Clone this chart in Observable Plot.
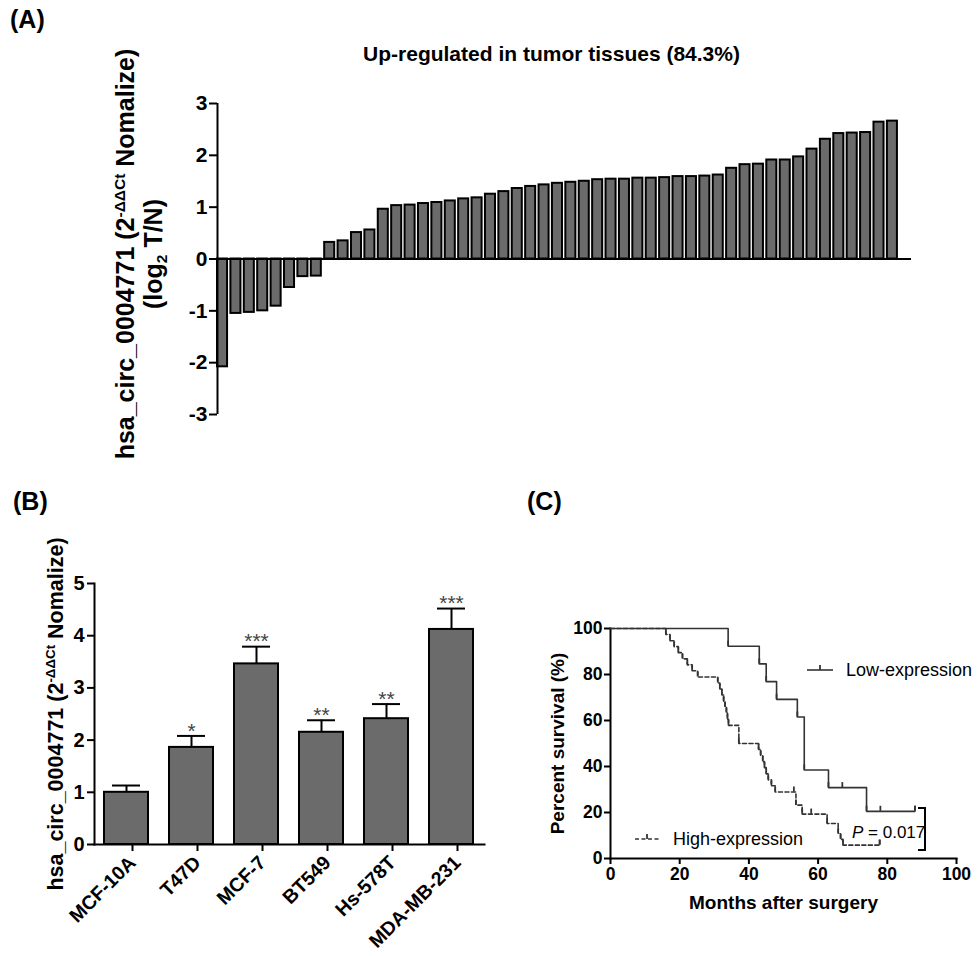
<!DOCTYPE html>
<html>
<head>
<meta charset="utf-8">
<script src="https://cdn.jsdelivr.net/npm/d3@7"></script>
<script src="https://cdn.jsdelivr.net/npm/@observablehq/plot@0.6"></script>
<style>
  html, body { margin: 0; padding: 0; background: #fff; }
  #root { position: relative; width: 978px; height: 956px; overflow: hidden; background: #fff;
          font-family: "Liberation Sans", Arial, Helvetica, sans-serif; color: #000; }
  .lbl { position: absolute; font-weight: bold; white-space: nowrap; }
  .rot { transform: translate(-50%, -50%) rotate(-90deg); text-align: center; }
  .sup { font-size: 0.62em; vertical-align: 0.55em; }
  .sub { font-size: 0.62em; vertical-align: -0.3em; }
</style>
</head>
<body>
<div id="root"></div>
<script>
// ---------- Panel A data ----------
const aValues = [-2.08, -1.05, -1.03, -1.0, -0.91, -0.55, -0.34, -0.33,
  0.32, 0.35, 0.51, 0.56, 0.96, 1.03, 1.04, 1.07, 1.09, 1.12, 1.16, 1.18, 1.25, 1.30, 1.36, 1.40, 1.43, 1.46, 1.48,
  1.50, 1.53, 1.54, 1.54, 1.56, 1.56, 1.57, 1.59, 1.59, 1.60, 1.62, 1.75, 1.82, 1.83, 1.91, 1.91, 1.97, 2.12, 2.31,
  2.42, 2.43, 2.44, 2.64, 2.66];
const aTicks = [-3, -2, -1, 0, 1, 2, 3];
const aTitle = "Up-regulated in tumor tissues (84.3%)";

// ---------- Panel B data ----------
const bNames = ["MCF-10A", "T47D", "MCF-7", "BT549", "Hs-578T", "MDA-MB-231"];
const bValues = [1.0, 1.86, 3.46, 2.15, 2.41, 4.12];
const bErrors = [0.13, 0.22, 0.33, 0.23, 0.28, 0.40];
const bSig = ["", "*", "***", "**", "**", "***"];
const bTicks = [0, 1, 2, 3, 4, 5];

// ---------- Panel C data (Kaplan-Meier steps) ----------
const lowTime = [0, 34, 43, 45, 48, 54, 56, 63, 74, 88];
const lowSurv = [100, 92.3, 84.6, 76.9, 69.2, 61.5, 38.5, 30.8, 20.5, 20.5];
const lowCensorTime = [67, 78, 88];
const lowCensorSurv = [30.8, 20.5, 20.5];
const highTime = [0, 16, 17.2, 18.4, 19.6, 20.8, 22.2, 23.6, 25.2, 31, 31.6, 32.2, 32.7, 33.1, 33.5, 33.8, 34.1,
  37.1, 42.8, 43.4, 44, 44.5, 45, 45.6, 46.5, 47.6, 53.6, 55.4, 62.6, 65.8, 66.5, 67.2, 77.8];
const highSurv = [100, 97.4, 94.7, 92.1, 89.5, 86.8, 84.2, 81.6, 78.9, 76.3, 73.7, 71.1, 68.4, 65.8, 63.2, 60.5, 57.9,
  50.0, 47.4, 44.7, 42.1, 39.5, 36.8, 34.2, 31.6, 28.9, 23.2, 19.3, 15.2, 11.0, 8.3, 5.8, 5.8];
const highCensorTime = [53, 58, 77.8];
const highCensorSurv = [28.9, 19.3, 5.8];
const cTicks = [0, 20, 40, 60, 80, 100];

const FONT = '"Liberation Sans", Arial, Helvetica, sans-serif';
const BAR = "#6b6b6b";
const LINE = "#333";
const root = document.getElementById("root");

function place(node, left, top) {
  node.style.position = "absolute";
  node.style.left = left + "px";
  node.style.top = top + "px";
  root.appendChild(node);
}
function label(html, left, top, size, cls) {
  const d = document.createElement("div");
  d.className = "lbl " + (cls || "");
  d.style.left = left + "px";
  d.style.top = top + "px";
  d.style.fontSize = size + "px";
  d.innerHTML = html;
  root.appendChild(d);
  return d;
}

// ---------- Panel A ----------
const aData = aValues.map((v, i) => ({i, v}));
const plotA = Plot.plot({
  width: 978, height: 460,
  marginLeft: 217, marginRight: 67, marginTop: 103, marginBottom: 46,
  style: {fontFamily: FONT, color: "#000", background: "transparent", overflow: "visible"},
  x: {domain: [0, 51.8], axis: null},
  y: {domain: [-3, 3]},
  marks: [
    Plot.rectY(aData, {x1: "i", x2: d => d.i + 0.75, y1: 0, y2: "v", fill: BAR, stroke: "#000", strokeWidth: 2}),
    Plot.ruleY([0], {stroke: "#000", strokeWidth: 2}),
    Plot.ruleX([0], {y1: -3, y2: 3, stroke: "#000", strokeWidth: 2}),
    Plot.axisY({ticks: aTicks, tickSize: 8, tickPadding: 2, tickFormat: d => String(d), label: null,
      strokeWidth: 2, fontSize: 21, fontWeight: "bold"}),
    Plot.text([aTitle], {frameAnchor: "top", dy: -49, dx: -13, fontSize: 21, fontWeight: "bold", lineAnchor: "middle"})
  ]
});
place(plotA, 0, 0);

// ---------- Panel B ----------
const bData = bNames.map((name, i) => ({name, v: bValues[i], e: bErrors[i], sig: bSig[i]}));
const plotB = Plot.plot({
  width: 500, height: 476,
  marginLeft: 94, marginRight: 16, marginTop: 113, marginBottom: 102,
  style: {fontFamily: FONT, color: "#000", background: "transparent", overflow: "visible"},
  x: {domain: bNames, paddingInner: 0.32, paddingOuter: 0.16},
  y: {domain: [0, 5]},
  marks: [
    Plot.ruleX(bData, {x: "name", y1: "v", y2: d => d.v + d.e, stroke: "#000", strokeWidth: 2}),
    Plot.tickY(bData, {x: "name", y: d => d.v + d.e, stroke: "#000", strokeWidth: 2, insetLeft: 8, insetRight: 8}),
    Plot.barY(bData, {x: "name", y: "v", fill: BAR, stroke: "#000", strokeWidth: 2}),
    Plot.text(bData, {x: "name", y: d => d.v + d.e, text: "sig", dy: -5, lineAnchor: "middle", fontSize: 21, fill: "#444"}),
    Plot.frame({anchor: "left", stroke: "#000", strokeWidth: 2}),
    Plot.frame({anchor: "bottom", stroke: "#000", strokeWidth: 2}),
    Plot.axisY({ticks: bTicks, tickSize: 7, tickPadding: 3, tickFormat: d => String(d), label: null,
      strokeWidth: 2, fontSize: 20, fontWeight: "bold"}),
    Plot.axisX({tickRotate: -45, tickSize: 7, tickPadding: 8, dx: 6, label: null,
      strokeWidth: 2, fontSize: 19.5, fontWeight: "bold"})
  ]
});
place(plotB, 0, 470);

// ---------- Panel C ----------
const low = lowTime.map((t, i) => ({t, s: lowSurv[i]}));
const high = highTime.map((t, i) => ({t, s: highSurv[i]}));
const lowMarks = low.slice(1).concat(lowCensorTime.map((t, i) => ({t, s: lowCensorSurv[i]})));
const highMarks = high.slice(1).concat(highCensorTime.map((t, i) => ({t, s: highCensorSurv[i]})));
const plotC = Plot.plot({
  width: 478, height: 396,
  marginLeft: 110, marginRight: 22, marginTop: 68, marginBottom: 98,
  style: {fontFamily: FONT, color: "#000", background: "transparent", overflow: "visible"},
  x: {domain: [0, 100]},
  y: {domain: [0, 100]},
  marks: [
    Plot.frame({anchor: "left", stroke: "#000", strokeWidth: 2}),
    Plot.frame({anchor: "bottom", stroke: "#000", strokeWidth: 2}),
    Plot.axisX({ticks: cTicks, tickSize: 6, tickPadding: 3, tickFormat: d => String(d), label: null,
      strokeWidth: 2, fontSize: 17.5, fontWeight: "bold"}),
    Plot.axisY({ticks: cTicks, tickSize: 6, tickPadding: 2, tickFormat: d => String(d), label: null,
      strokeWidth: 2, fontSize: 17.5, fontWeight: "bold"}),
    Plot.line(low, {x: "t", y: "s", curve: "step-after", stroke: LINE, strokeWidth: 1.6}),
    Plot.line(high, {x: "t", y: "s", curve: "step-after", stroke: LINE, strokeWidth: 1.6, strokeDasharray: "4,2.5"}),
    Plot.ruleX(lowMarks, {x: "t", y1: "s", y2: d => d.s + 2.2, stroke: LINE, strokeWidth: 1.8}),
    Plot.ruleX(highMarks, {x: "t", y1: "s", y2: d => d.s + 2.2, stroke: LINE, strokeWidth: 1.8}),
    Plot.text(["Months after surgery"], {frameAnchor: "bottom", dy: 44, lineAnchor: "middle", fontSize: 19, fontWeight: "bold"}),
    Plot.text(["Percent survival (%)"], {frameAnchor: "left", dx: -53, rotate: -90, textAnchor: "middle", lineAnchor: "middle", fontSize: 19, fontWeight: "bold"})
  ]
});
place(plotC, 500, 560);

// ---------- HTML labels (with super/subscripts) ----------
label('hsa_circ_0004771 (2<span class="sup">-ΔΔCt</span> Nomalize)<br>(log<span class="sub">2</span> T/N)',
  141, 254, 25, "rot").style.lineHeight = "28px";
label('hsa_circ_0004771 (2<span class="sup">-ΔΔCt</span> Nomalize)', 56, 714, 21.5, "rot");
label("(A)", 10, 5, 25);
label("(B)", 13, 487, 25);
label("(C)", 527, 487, 25);

// ---------- Legend / annotation overlay for panel C ----------
const ov = d3.create("svg").attr("width", 978).attr("height", 956)
  .style("position", "absolute").style("left", "0px").style("top", "0px").style("pointer-events", "none")
  .style("font-family", FONT);
const lg = ov.append("g").attr("stroke", LINE).attr("stroke-width", 1.6).attr("fill", "none");
lg.append("line").attr("x1", 807).attr("x2", 833).attr("y1", 670).attr("y2", 670);
lg.append("line").attr("x1", 820).attr("x2", 820).attr("y1", 665).attr("y2", 670).attr("stroke-width", 1.8);
lg.append("line").attr("x1", 635).attr("x2", 659).attr("y1", 839).attr("y2", 839).attr("stroke-dasharray", "4,2.5");
lg.append("line").attr("x1", 647).attr("x2", 647).attr("y1", 834).attr("y2", 839).attr("stroke-width", 1.8);
lg.append("polyline").attr("points", "918,808 925,808 925,850 918,850").attr("stroke", "#000").attr("stroke-width", 2);
ov.append("text").attr("x", 846).attr("y", 670).attr("dy", "0.35em").attr("font-size", 18).text("Low-expression");
ov.append("text").attr("x", 673).attr("y", 839).attr("dy", "0.35em").attr("font-size", 18).text("High-expression");
const pt = ov.append("text").attr("x", 852).attr("y", 832).attr("dy", "0.35em").attr("font-size", 17);
pt.append("tspan").attr("font-style", "italic").text("P");
pt.append("tspan").text(" = 0.017");
root.appendChild(ov.node());
</script>
</body>
</html>
